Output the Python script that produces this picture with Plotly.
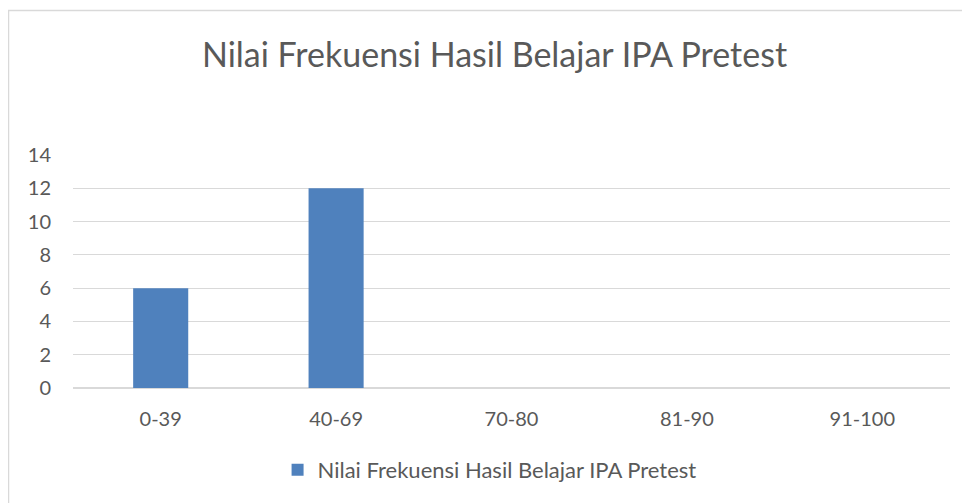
import plotly.graph_objects as go

categories = ["0-39", "40-69", "70-80", "81-90", "91-100"]
values = [6, 12, 0, 0, 0]
series_name = "Nilai Frekuensi Hasil Belajar IPA Pretest"
title_text = "Nilai Frekuensi Hasil Belajar IPA Pretest"
y_ticks = [0, 2, 4, 6, 8, 10, 12, 14]

FONT = "Lato"
TXT = "#595959"
GRID = "#d9d9d9"

# page has an 8px body margin; figure sized to fit the 970x503 window
W, H = 962, 495

fig = go.Figure()
fig.add_trace(go.Bar(
    x=categories, y=values, name=series_name,
    marker=dict(color="#4f81bd", line=dict(width=0)),
    showlegend=True,
))

fig.update_layout(
    width=W, height=H,
    paper_bgcolor="white", plot_bgcolor="white",
    margin=dict(l=65, r=20, t=147, b=115, autoexpand=False),
    bargap=0.686,
    font=dict(family=FONT, color=TXT, size=20),
    title=dict(text=title_text, x=486.5 / W, xanchor="center",
               y=1 - 47 / H, yanchor="middle", yref="container",
               font=dict(family=FONT, size=34, color=TXT)),
    showlegend=True,
    legend=dict(orientation="h", x=0.475, xanchor="center", y=-0.352, yanchor="middle",
                font=dict(family=FONT, size=22, color=TXT), bgcolor="rgba(0,0,0,0)",
                itemwidth=30),
    xaxis=dict(showgrid=False, showline=False, zeroline=False,
               tickfont=dict(family=FONT, size=20, color=TXT),
               ticks="", ticklabelstandoff=17),
    yaxis=dict(range=[0, 14], tickvals=y_ticks, showgrid=True, gridcolor=GRID, gridwidth=1,
               zeroline=True, zerolinecolor=GRID, zerolinewidth=1.5, showline=False,
               tickfont=dict(family=FONT, size=20, color=TXT), ticks="",
               ticklabelstandoff=21),
    shapes=[dict(type="rect", xref="paper", yref="paper",
                 x0=(0.5 - 65) / 877, x1=1.2, y0=-1.0, y1=(380 - 2.5) / 233,
                 line=dict(color="#d9d9d9", width=1.5), fillcolor="rgba(0,0,0,0)", layer="below")],
)

fig.write_html("out.html")
